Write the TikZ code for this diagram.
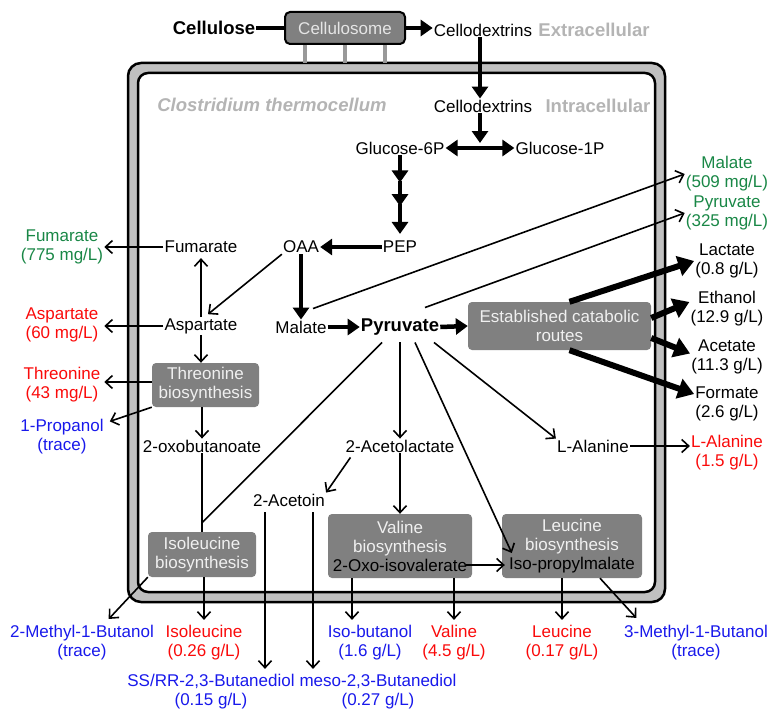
\documentclass[tikz,border=0pt]{standalone}
\usepackage{fontspec}
\setmainfont{Liberation Sans}
\usetikzlibrary{calc,arrows.meta}
\definecolor{prodgreen}{RGB}{25,135,70}
\definecolor{prodred}{RGB}{250,10,10}
\definecolor{prodblue}{RGB}{25,25,235}
\definecolor{zonegray}{RGB}{180,180,180}
\definecolor{boxgray}{RGB}{128,128,128}
\definecolor{wallgray}{RGB}{192,192,192}

\begin{document}
\begin{tikzpicture}[x=1pt, y=-1pt, %pixel units, y runs downwards
  met/.style={font=\fontsize{17}{19}\selectfont, inner sep=1pt, align=center},
  bigmet/.style={font=\bfseries\fontsize{18.5}{21}\selectfont, inner sep=1pt},
  zone/.style={font=\bfseries\fontsize{18.5}{21}\selectfont, text=zonegray, inner sep=1pt},
  route/.style={met, fill=boxgray, text=white!94!black, rounded corners=4pt},
  link/.style={line width=1.6pt},
  arr/.style={line width=1.6pt, -{Straight Barb[length=7pt,width=13pt]}},
  outarr/.style={arr, shorten >=4pt},
  fat/.style={line width=4.5pt, -{Triangle[length=12pt,width=16pt]}},
  fatboth/.style={line width=4.5pt, {Triangle[length=12pt,width=16pt]}-{Triangle[length=12pt,width=16pt]}},
  fatter/.style={line width=6pt, -{Triangle[length=16pt,width=20pt]}},
  stalk/.style={line width=4pt, draw=gray!80}]
\useasboundingbox (0,0) rectangle (769,709);

% cell wall
\draw[line width=2.5pt, fill=wallgray, rounded corners=13pt] (128,63) rectangle (665,602);
\draw[line width=2.5pt, fill=white, rounded corners=10pt] (138,73) rectangle (655,592);

% outside the cell
\node[bigmet] (cellulose) at (214,28) {Cellulose};
\node[route, draw=black, line width=2pt, rounded corners=5pt, text=white!90!black,
  minimum width=120pt, minimum height=32pt] (csome) at (345,28) {Cellulosome};
\foreach \dx in {-40,0,40} \draw[stalk] ($(csome.south)+(\dx,0)$) -- ++(0,18);
\node[met] (cdext) at (483,30) {Cellodextrins};
\node[zone] (extra) at (594,30) {Extracellular};

% inside the cell
\node[zone, font=\bfseries\itshape\fontsize{18.5}{21}\selectfont] (clos) at (272,105) {Clostridium thermocellum};
\node[met] (cdin) at (483,106) {Cellodextrins};
\node[zone] (intra) at (598,106) {Intracellular};
\node[met] (g6p) at (400,148) {Glucose-6P};
\node[met] (g1p) at (560,148) {Glucose-1P};
\node[met] (pep) at (400,247) {PEP};
\node[met] (oaa) at (301,247) {OAA};
\node[met] (fum) at (201,247) {Fumarate};
\node[met] (asp) at (201,326) {Aspartate};
\node[met] (mal) at (301,327) {Malate};
\node[bigmet] (pyr) at (400,327) {Pyruvate};
\node[route, minimum width=183pt, minimum height=48pt] (ecr) at (559.5,326) {Established catabolic\\routes};
\node[route, minimum width=107pt, minimum height=44pt] (thr) at (205.5,385) {Threonine\\biosynthesis};
\node[met] (oxo) at (202,446) {2-oxobutanoate};
\node[route, minimum width=108pt, minimum height=45pt] (ile) at (202,554.5) {Isoleucine\\biosynthesis};
\node[met] (acl) at (400,446) {2-Acetolactate};
\node[met] (acn) at (289,500) {2-Acetoin};
\node[met] (ala) at (593,446) {L-Alanine};
\node[route, minimum width=144pt, minimum height=64pt] (val) at (400,546) {Valine\\biosynthesis\\\textcolor{black}{2-Oxo-isovalerate}};
\node[route, minimum width=140pt, minimum height=64pt] (leu) at (572,546) {Leucine\\biosynthesis\\\textcolor{black}{Iso-propylmalate}};

% products
\node[met, text=prodgreen] (fumx) at (62,246.5) {Fumarate\\(775 mg/L)};
\node[met, text=prodred] (aspx) at (62,325) {Aspartate\\(60 mg/L)};
\node[met, text=prodred] (thrx) at (62,385) {Threonine\\(43 mg/L)};
\node[met, text=prodblue] (propx) at (62,437) {1-Propanol\\(trace)};
\node[met, text=prodgreen] (malx) at (727,174) {Malate\\(509 mg/L)};
\node[met, text=prodgreen] (pyrx) at (727,213) {Pyruvate\\(325 mg/L)};
\node[met] (lacx) at (727,261) {Lactate\\(0.8 g/L)};
\node[met] (etx) at (727,309) {Ethanol\\(12.9 g/L)};
\node[met] (acx) at (727,356.5) {Acetate\\(11.3 g/L)};
\node[met] (forx) at (727,404) {Formate\\(2.6 g/L)};
\node[met, text=prodred] (alax) at (727,452.5) {L-Alanine\\(1.5 g/L)};
\node[met, text=prodblue] (mbx) at (82,642.5) {2-Methyl-1-Butanol\\(trace)};
\node[met, text=prodred] (ilex) at (204,642.5) {Isoleucine\\(0.26 g/L)};
\node[met, text=prodblue] (ibx) at (370,642.5) {Iso-butanol\\(1.6 g/L)};
\node[met, text=prodred] (valx) at (454,642.5) {Valine\\(4.5 g/L)};
\node[met, text=prodred] (leux) at (562,642.5) {Leucine\\(0.17 g/L)};
\node[met, text=prodblue] (m3x) at (696,642.5) {3-Methyl-1-Butanol\\(trace)};
\node[met, text=prodblue] (ssx) at (211,691.5) {SS/RR-2,3-Butanediol\\(0.15 g/L)};
\node[met, text=prodblue] (mesx) at (378,691.5) {meso-2,3-Butanediol\\(0.27 g/L)};

% uptake and glycolysis
\draw[link, line width=4pt] (cellulose.east) -- (csome.west);
\draw[fat] (csome.east) -- (csome.east -| cdext.west);
\coordinate (gjoin) at ($(g6p.east)!0.5!(g1p.west)$);
\draw[fat] (gjoin |- cdext.south) -- (gjoin |- cdin.north);
\draw[fat] (gjoin |- cdin.south) -- ($(gjoin)+(0,-5)$);
\draw[fatboth] (g6p.east) -- (g1p.west);
\draw[fat] (g6p.south) -- ($(g6p.south)!0.32!(pep.north)$);
\draw[fat] ($(g6p.south)!0.3!(pep.north)$) -- ($(g6p.south)!0.6!(pep.north)$);
\draw[fat, shorten >=6pt] ($(g6p.south)!0.58!(pep.north)$) -- (pep.north);
\draw[fat] (pep.west) -- (oaa.east);
\draw[fat] (oaa.south) -- (mal.north);
\draw[fat] (mal.east) -- (pyr.west);
\draw[fat] (pyr.east) -- (ecr.west);

% fermentation products
\draw[fatter] ($(ecr.north)+(10,0)$) -- (lacx.west);
\draw[fatter] ($(ecr.east)+(0,-8)$) -- ($(etx.west)+(0,-7)$);
\draw[fatter] ($(ecr.east)+(0,12)$) -- ($(acx.west)+(0,-3)$);
\draw[fatter] ($(ecr.south)+(10,0)$) -- ($(forx.west)+(0,-10)$);
\draw[arr] ($(mal.north)+(12,-11)$) -- (malx.west);
\draw[arr] ($(pyr.north)+(25,-10)$) -- (pyrx.west);

% aspartate branch
\draw[arr] (oaa.south west) -- ($(asp.north)+(7,-3)$);
\draw[arr, shorten >=4pt] (asp.north) -- (fum.south);
\draw[arr] (fum.west) -- (fum.west -| fumx.east);
\draw[arr] (asp.west) -- (asp.west -| fumx.east);
\draw[arr] (asp.south) -- (asp.south |- thr.north);
\draw[arr] ($(thr.west)+(0,-3)$) -- ($(thr.west -| fumx.east)+(0,-3)$);
\draw[arr] (thr.south west) -- ($(propx.north east)+(5,3)$);
\draw[arr] (oxo.north |- thr.south) -- (oxo.north);
\draw[link] (oxo.south) -- (ile.north);

% pyruvate branches
\coordinate (ilejoin) at ($(ile.north)+(0,-9)$);
\draw[link] ($(pyr.south)+(-18,6)$) -- (ilejoin);
\draw[arr] ($(pyr.south)+(0,6)$) -- (acl.north);
\draw[arr] ($(pyr.south)+(15,6)$) -- ($(leu.west)+(10,7)$);
\draw[arr] ($(pyr.south)+(34,6)$) -- (ala.north west);
\draw[arr] (acl.south) -- (val.north);
\draw[arr] ($(acl.south west)+(6,4)$) -- (acn.north east);
\draw[arr] ($(val.east)+(-6,19)$) -- ($(leu.west)+(3,19)$);
\draw[arr] (ala.east) -- (ala.east -| alax.west);

% out of the cell
\draw[outarr] (ile.south west) -- ($(mbx.north)+(24,-2)$);
\draw[outarr] (ilex.north |- ile.south) -- (ilex.north);
\draw[outarr] ($(acn.south)+(-24,5)$) coordinate (sstop) -- (sstop |- ssx.north);
\draw[outarr] ($(acn.south)+(24,5)$) coordinate (mstop) -- (mstop |- mesx.north);
\draw[outarr] ($(val.south)+(-48,0)$) -- ($(ibx.north)+(-18,0)$);
\draw[outarr] (valx.north |- val.south) -- (valx.north);
\draw[outarr] (leux.north |- leu.south) -- (leux.north);
\draw[outarr] ($(leu.south)+(28,0)$) -- ($(m3x.north west)+(16,-3)$);
\end{tikzpicture}
\end{document}
